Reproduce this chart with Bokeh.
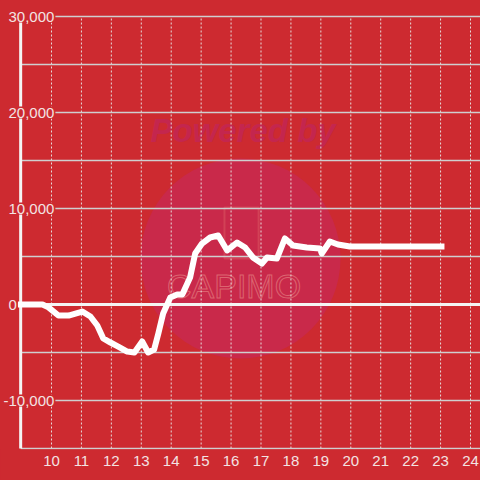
from bokeh.plotting import figure
from bokeh.models import FixedTicker, GlobalInlineStyleSheet
from bokeh.core.properties import value
from bokeh.embed import file_html
from bokeh.resources import INLINE

# ---- data (hours of day, value) ----
hours = [8.87, 9.7, 9.9, 10.23, 10.57, 10.8, 11.03, 11.3, 11.53, 11.73, 11.97,
         12.23, 12.53, 12.77, 13.03, 13.23, 13.43, 13.57, 13.73, 13.97, 14.2,
         14.37, 14.63, 14.8, 15.03, 15.3, 15.57, 15.87, 16.2, 16.47, 16.73,
         17.03, 17.2, 17.53, 17.8, 18.07, 18.53, 18.97, 19.03, 19.3, 19.57,
         19.97, 23.13]
values = [0, 0, -300, -1150, -1150, -940, -730, -1250, -2190, -3540, -3960,
          -4380, -4900, -5000, -3850, -5000, -4690, -3020, -940, 730, 1040,
          1040, 2810, 5310, 6350, 6980, 7190, 5630, 6460, 5940, 4900,
          4270, 4900, 4790, 6880, 6150, 5940, 5830, 5310, 6560, 6250,
          6040, 6040]

x_ticks = [10, 11, 12, 13, 14, 15, 16, 17, 18, 19, 20, 21, 22, 23, 24]
y_grid = [-15000, -10000, -5000, 5000, 10000, 15000, 20000, 25000, 30000]
y_label_vals = [30000, 20000, 10000, 0, -10000]
y_label_text = ["30,000", "20,000", "10,000", "0", "-10,000"]

BG = "#cd2a30"
TXT = "#f3e3e3"

x0, x1 = 8.296, 24.334
y_min, y_max = -15104, 31667
p = figure(width=480, height=480, output_backend="svg", toolbar_location=None,
           x_range=(x0, x1), y_range=(y_min, y_max),
           y_axis_location=None,
           min_border_left=0, min_border_right=0, min_border_top=0, min_border_bottom=31)
p.stylesheets = [GlobalInlineStyleSheet(css="html, body { background-color: #cd2a30; }")]
p.background_fill_color = BG
p.border_fill_color = BG
p.outline_line_color = None

# x axis
p.xaxis.ticker = FixedTicker(ticks=x_ticks)
p.xaxis.axis_line_color = None
p.xaxis.major_tick_line_color = None
p.xaxis.minor_tick_line_color = None
p.xaxis.major_label_text_color = TXT
p.xaxis.major_label_text_font = "Liberation Sans"
p.xaxis.major_label_text_font_size = "15px"
p.xaxis.major_label_standoff = 0
p.xgrid.visible = False
p.ygrid.visible = False

axis_x = 8.97

# watermark
p.scatter([16.315], [4792], marker="circle", size=200, fill_color="#c9294a",
          line_color=None)
p.text([16.4], [18125], text=["Powered by"], text_align="center", text_baseline="middle",
       text_font=value("Liberation Sans"), text_font_style="bold italic",
       text_font_size="33px", text_color="#c4264e")
p.quad(left=[15.78], right=[16.92], top=[10100], bottom=[4790], fill_color=None,
       line_color="#d8525f", line_width=2, line_alpha=0.6)
p.text([16.1], [1900], text=["CAPIMO"], text_align="center", text_baseline="middle",
       text_font=value("Liberation Sans"), text_font_size="34px",
       text_color="#c9294a", text_outline_color="#dc6470")

# vertical dashed grid lines
p.segment(x0=x_ticks, y0=[-15000] * len(x_ticks), x1=x_ticks, y1=[30000] * len(x_ticks),
          line_color="#e6dcdc", line_width=1, line_dash="2 2")
# horizontal grid lines
p.segment(x0=[axis_x] * len(y_grid), y0=y_grid, x1=[x1] * len(y_grid), y1=y_grid,
          line_color="#cfcfcf", line_width=1.3)
# zero line
p.segment(x0=[8.87], y0=[0], x1=[x1], y1=[0], line_color="#f4f4f4", line_width=3)
# y axis line
p.segment(x0=[axis_x], y0=[-15000], x1=[axis_x], y1=[30000], line_color="#f4f4f4",
          line_width=3)

# data line
p.line(hours, values, line_color="white", line_width=6, line_join="round")

# y labels (left aligned; a leading minus hangs further left)
px_per_hour = 480 / (x1 - x0)
label_x = [x0 + (2 if t.startswith("-") else 7) / px_per_hour for t in y_label_text]
p.text(label_x, y_label_vals, text=y_label_text, text_align="left",
       text_baseline="middle", text_font=value("Liberation Sans"), text_font_size="15px",
       text_color=TXT, background_fill_color=BG, padding=1)

open("out.html", "w").write(file_html(p, INLINE))
